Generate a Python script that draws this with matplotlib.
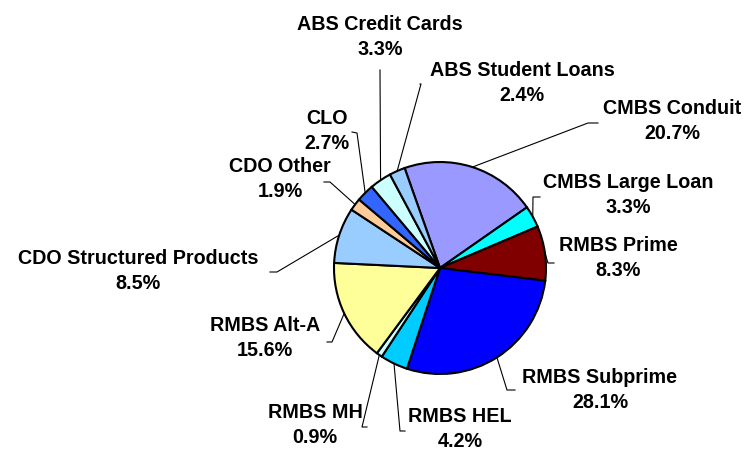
import numpy as np
import matplotlib
matplotlib.use("Agg")
import matplotlib.pyplot as plt

# slice data, clockwise from the CMBS Conduit slice
labels = ["CMBS Conduit", "CMBS Large Loan", "RMBS Prime", "RMBS Subprime",
          "RMBS HEL", "RMBS MH", "RMBS Alt-A", "CDO Structured Products",
          "CDO Other", "CLO", "ABS Credit Cards", "ABS Student Loans"]
shares = [20.7, 3.3, 8.3, 28.1, 4.2, 0.9, 15.6, 8.5, 1.9, 2.7, 3.3, 2.4]
colors = ["#9999FF", "#00FFFF", "#800000", "#0000FF", "#00CCFF", "#CCFFFF",
          "#FFFF99", "#99CCFF", "#FFCC99", "#3366FF", "#CCFFFF", "#99CCFF"]

# label layout in pixels (text centre, leader-line start, elbow)
W, H = 747, 450
text_pos = [(672, 121), (628, 195), (618, 258), (600, 390), (460, 429),
            (315, 425), (265, 338), (138, 271), (280, 179), (327, 131),
            (380, 37), (522, 83)]
line_start = [(598, 123), (540, 197), (554, 263), (515, 390), (405, 431),
              (367, 427), (327, 342), (270, 272), (324, 182), (352, 132),
              (380, 70), (420, 84)]
line_elbow = [(588, 123), (533, 197), (548, 263), (507, 390), (400, 431),
              (362, 427), (332, 342), (277, 272), (330, 182), (357, 133),
              (380, 72), (421, 84)]

cx, cy, r = 440, H - 268, 106
start = 109.5

fig = plt.figure(figsize=(W / 100, H / 100), dpi=100)
ax = fig.add_axes([0, 0, 1, 1])

wedges, _ = ax.pie(shares, colors=colors, startangle=start, counterclock=False,
                   center=(cx, cy), radius=r,
                   wedgeprops=dict(edgecolor="black", linewidth=1.5))
ax.set_xlim(0, W)
ax.set_ylim(0, H)
ax.set_aspect("equal")
ax.axis("off")

font = dict(family=["Liberation Sans", "DejaVu Sans"], fontweight="bold",
            fontsize=14.2)
for w, lab, val, tp, ls, le in zip(wedges, labels, shares, text_pos,
                                   line_start, line_elbow):
    mid = np.deg2rad((w.theta1 + w.theta2) / 2)
    ex, ey = cx + r * np.cos(mid), cy + r * np.sin(mid)
    ax.plot([ls[0], le[0], ex], [H - ls[1], H - le[1], ey],
            color="black", lw=0.8, zorder=0)
    ax.text(tp[0], H - tp[1], f"{lab}\n{val:.1f}%", ha="center", va="center",
            multialignment="center", linespacing=1.35, **font)

fig.savefig("out.png", dpi=100)
